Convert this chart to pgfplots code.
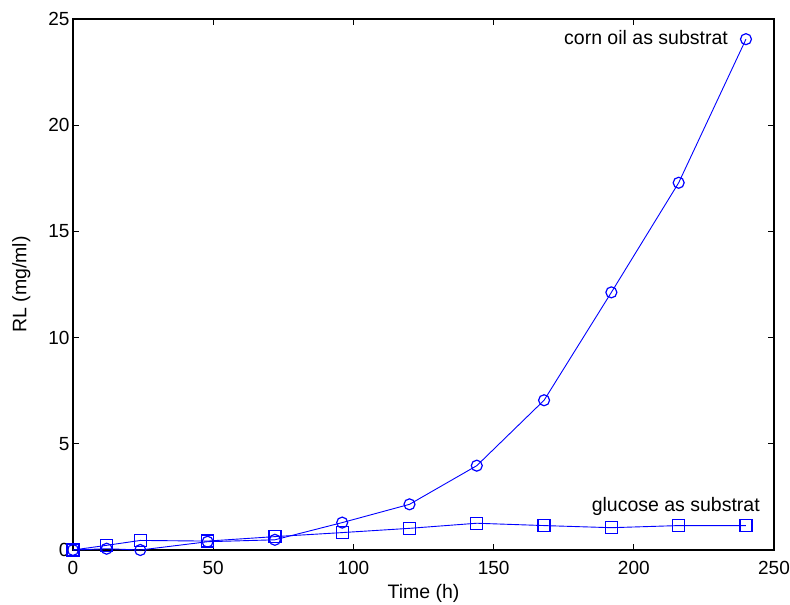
\documentclass[border=0pt]{standalone}
\usepackage{pgfplots}
\pgfplotsset{compat=1.18}
\usepackage{fontspec}
\setmainfont{Liberation Sans}
\definecolor{mblue}{RGB}{0,0,255}
\begin{document}
\begin{tikzpicture}
\begin{axis}[
  scale only axis,
  width=701pt, height=531pt,
  xmin=0, xmax=250, ymin=0, ymax=25,
  xtick={0,50,100,150,200,250},
  ytick={0,5,10,15,20,25},
  tick align=inside,
  major tick length=6pt,
  tick style={black, line width=0.9pt},
  axis line style={black, line width=1.1pt},
  ticklabel style={font=\fontsize{19}{22}\selectfont},
  xticklabel style={yshift=-8pt},
  /pgf/number format/assume math mode=true,
  xlabel={Time (h)},
  ylabel={RL (mg/ml)},
  label style={font=\fontsize{19.5}{22}\selectfont},
  xlabel style={yshift=-3pt},
  ylabel style={yshift=11pt},
  clip=false,
]
\addplot[mblue, line width=0.9pt, mark=o, mark size=5.5pt, mark options={mblue, solid, line width=1.2pt}]
  coordinates {(0,0) (12,0.06) (24,0.0) (48,0.39) (72,0.48) (96,1.29) (120,2.15) (144,3.97) (168,7.05) (192,12.13) (216,17.29) (240,24.05)};
\addplot[mblue, line width=0.9pt, mark=square, mark size=6pt, mark options={mblue, solid, line width=1.3pt}]
  coordinates {(0,0) (12,0.22) (24,0.45) (48,0.42) (72,0.63) (96,0.82) (120,1.02) (144,1.26) (168,1.15) (192,1.05) (216,1.15) (240,1.15)};
\node[anchor=base east, font=\fontsize{19.5}{22}\selectfont, inner sep=0pt] at (axis cs:233.6,23.78) {corn oil as substrat};
\node[anchor=base east, font=\fontsize{19.5}{22}\selectfont, inner sep=0pt] at (axis cs:245,1.8) {glucose as substrat};
\end{axis}
\pgfresetboundingbox
\path[use as bounding box] ([xshift=-73pt,yshift=-54pt]current axis.south west) rectangle ([xshift=16pt,yshift=19pt]current axis.north east);
\end{tikzpicture}
\end{document}
